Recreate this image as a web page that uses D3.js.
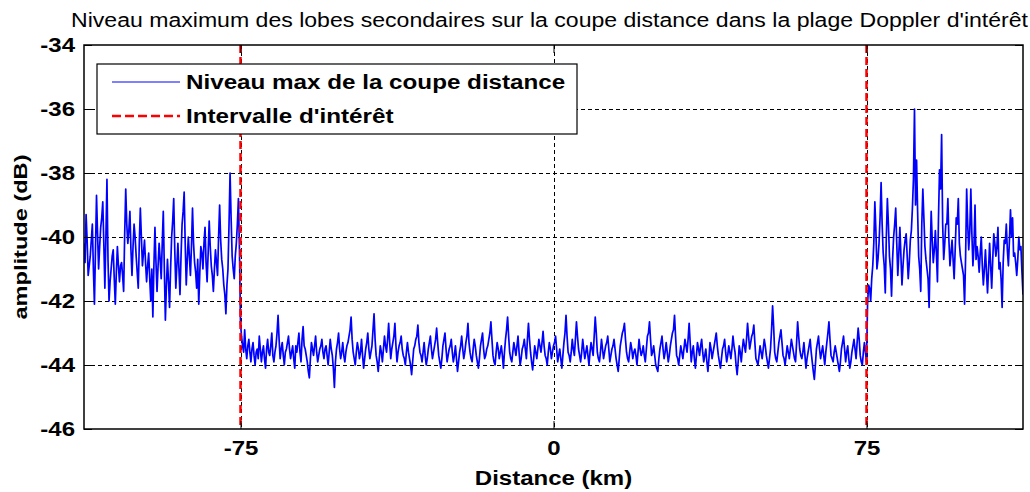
<!DOCTYPE html>
<html lang="fr">
<head>
    <meta charset="UTF-8">
    <title>Niveau maximum des lobes secondaires</title>
    <script src="https://cdnjs.cloudflare.com/ajax/libs/d3/7.8.5/d3.min.js"></script>
</head>

<style>
body { margin: 0; background: #fff; }
text { font-family: "Liberation Sans", Arial, sans-serif; }
.line { fill: none; stroke: #0000ff; stroke-width: 1.7px; stroke-linejoin: round; }
.grid line { stroke: #000; stroke-dasharray: 4,3; stroke-width: 1px; }
</style>

<body>
<div id="output"></div>
<script>

    // plot box (pixels)
    var margin = {top: 45, right: 7, bottom: 63, left: 84},
        width = 1030 - margin.left - margin.right,
        height = 492 - margin.top - margin.bottom;

    // axis setup
    var xDomain = [-112.5, 112.5];
    var yDomain = [-46, -34];
    var xTicks = [-75, 0, 75];
    var yTicks = [-46, -44, -42, -40, -38, -36, -34];
    var interval = [-75, 75];

    // samples are 0.25 km apart; each band is stored as two interleaved
    // lists (on the half-km grid and in between)
    var distStep = 0.5;

    // level (dB), -112.5 .. -75.5 km
    var leftBand = [
        -40.2, -39.3, -41.2, -40.6, -39.6, -42.1, -38.7, -41.0, -39.7, -38.9,
        -41.6, -38.2, -42.0, -41.0, -40.4, -42.1, -40.3, -41.4, -40.8, -41.7,
        -38.5, -40.2, -39.2, -41.2, -39.6, -40.6, -41.6, -39.1, -40.9, -40.1,
        -41.4, -40.5, -42.0, -42.5, -39.7, -41.7, -40.2, -41.3, -39.2, -42.6,
        -40.7, -42.2, -40.0, -38.8, -41.6, -40.2, -41.8, -39.6, -38.6, -41.5,
        -40.0, -41.2, -39.1, -40.8, -41.6, -42.1, -40.3, -41.0, -39.7, -41.4,
        -39.5, -40.9, -41.7, -40.4, -41.2, -39.0, -40.7, -41.5, -42.4, -41.0,
        -38.0, -40.6, -41.3, -40.2, -38.8
    ];
    // -112.25 .. -75.25 km
    var leftMid = [
        -40.8, -40.1, -40.9, -40.1, -41.0, -40.4, -39.9, -40.3, -39.4, -40.2,
        -40.0, -40.7, -41.4, -40.6, -41.3, -41.1, -40.9, -40.9, -41.2, -39.9,
        -39.6, -39.8, -40.4, -40.3, -40.0, -41.1, -40.2, -40.0, -40.5, -40.8,
        -40.9, -41.3, -41.0, -40.9, -40.8, -40.9, -40.7, -40.2, -41.0, -41.5,
        -41.4, -41.0, -39.5, -40.4, -40.9, -41.0, -40.6, -39.2, -40.2, -40.7,
        -40.6, -40.3, -40.2, -41.1, -40.7, -41.1, -40.5, -40.2, -40.8, -40.5,
        -40.3, -41.2, -41.0, -40.8, -40.0, -40.1, -41.0, -41.8, -41.5, -39.6,
        -39.4, -41.0, -40.6, -39.6, -40.4
    ];

    // -75 .. 75 km
    var centerBand = [
        -42.7, -43.4, -42.9, -43.8, -43.2, -43.9, -43.3, -44.0, -43.5, -43.1,
        -43.9, -43.4, -44.1, -43.2, -43.7, -43.0, -43.9, -43.4, -42.45, -43.8,
        -43.3, -44.0, -43.5, -43.1, -43.8, -43.4, -44.1, -43.6, -43.0, -43.9,
        -42.8, -43.5, -43.9, -44.4, -43.3, -43.7, -43.1, -43.9, -43.5, -43.2,
        -43.8, -43.4, -44.0, -43.2, -43.7, -44.7, -43.5, -43.0, -43.8, -43.3,
        -43.9, -43.4, -43.1, -42.5, -43.6, -44.0, -43.3, -43.8, -43.2, -44.1,
        -43.5, -43.0, -43.8, -43.4, -42.4, -43.7, -44.2, -43.4, -43.9, -43.1,
        -43.6, -42.7, -43.8, -43.3, -42.7, -43.9, -43.4, -43.1, -43.7, -44.0,
        -43.3, -43.8, -44.3, -43.5, -43.2, -42.75, -43.6, -43.9, -43.3, -44.0,
        -43.5, -43.1, -43.8, -43.4, -42.85, -43.7, -44.1, -43.4, -43.0, -43.9,
        -43.5, -43.2, -43.9, -43.4, -44.2, -43.6, -43.1, -43.8, -43.3, -42.7,
        -43.6, -43.9, -43.2, -43.7, -44.1, -43.4, -43.0, -43.8, -43.5, -43.2,
        -42.65, -43.7, -44.0, -43.3, -43.8, -43.4, -44.1, -43.2, -42.5, -43.6,
        -43.9, -43.3, -43.7, -43.1, -44.0, -43.5, -43.2, -43.8, -42.7, -43.6,
        -44.15, -43.4, -43.8, -43.2, -43.6, -42.95, -43.7, -44.0, -43.3, -43.8,
        -43.4, -43.1, -43.9, -43.5, -44.1, -43.3, -42.45, -43.6, -43.9, -43.2,
        -43.7, -42.65, -43.5, -43.9, -43.2, -43.8, -43.4, -44.0, -43.3, -43.7,
        -42.5, -43.6, -43.9, -43.2, -43.8, -43.4, -43.1, -43.9, -43.5, -43.2,
        -43.8, -44.2, -43.4, -43.0, -42.7, -43.6, -43.9, -43.3, -43.8, -43.5,
        -44.0, -43.2, -43.7, -43.4, -43.9, -43.1, -42.65, -43.7, -43.4, -44.0,
        -44.2, -43.5, -43.1, -43.8, -43.3, -43.9, -43.4, -43.0, -42.45, -43.7,
        -44.0, -43.4, -43.8, -43.2, -43.6, -42.7, -43.9, -43.4, -44.1, -43.3,
        -43.7, -43.2, -43.9, -43.5, -44.2, -43.3, -43.8, -43.4, -43.0, -43.7,
        -44.1, -43.5, -43.2, -43.9, -43.4, -43.8, -43.1, -43.6, -44.3, -43.4,
        -43.9, -43.2, -43.6, -42.7, -43.5, -43.1, -42.75, -43.8, -44.0, -43.4,
        -43.8, -43.2, -43.7, -44.1, -43.5, -42.15, -43.6, -43.9, -43.3, -42.9,
        -43.7, -44.0, -43.4, -43.8, -43.2, -43.6, -43.9, -42.65, -43.5, -43.8,
        -43.3, -44.1, -43.6, -43.2, -43.9, -44.45, -43.5, -43.1, -43.8, -43.4,
        -44.0, -43.3, -42.65, -43.7, -43.9, -43.4, -43.8, -44.2, -43.5, -43.1,
        -43.9, -43.4, -44.1, -43.6, -43.2, -43.8, -42.85, -43.7, -44.0, -43.3,
        -43.9
    ];
    // -74.75 .. 74.75 km
    var centerMid = [
        -43.1, -43.6, -43.5, -43.4, -43.6, -43.5, -43.7, -43.6, -43.8, -43.5,
        -43.6, -43.8, -43.5, -43.6, -43.4, -43.7, -43.6, -43.0, -43.2, -43.5,
        -43.7, -43.6, -43.3, -43.5, -43.6, -43.8, -43.4, -43.3, -43.6, -43.2,
        -43.4, -43.7, -44.2, -43.8, -43.5, -43.4, -43.6, -43.7, -43.4, -43.6,
        -43.5, -43.7, -43.6, -43.5, -44.1, -43.9, -43.3, -43.5, -43.6, -43.7,
        -43.6, -43.3, -42.9, -43.2, -43.8, -43.6, -43.5, -43.6, -43.7, -43.8,
        -43.3, -43.5, -43.6, -42.9, -43.2, -43.9, -43.8, -43.6, -43.5, -43.4,
        -43.2, -43.3, -43.5, -43.1, -43.4, -43.6, -43.3, -43.5, -43.8, -43.6,
        -43.6, -44.0, -43.9, -43.4, -43.1, -43.3, -43.7, -43.6, -43.7, -43.8,
        -43.3, -43.5, -43.6, -43.2, -43.3, -43.9, -43.8, -43.2, -43.5, -43.7,
        -43.4, -43.6, -43.7, -43.8, -43.9, -43.4, -43.5, -43.6, -43.1, -43.3,
        -43.8, -43.5, -43.4, -43.9, -43.8, -43.2, -43.5, -43.7, -43.4, -43.0,
        -43.2, -43.9, -43.6, -43.5, -43.6, -43.7, -43.6, -42.9, -43.1, -43.8,
        -43.6, -43.5, -43.4, -43.6, -43.8, -43.4, -43.5, -43.2, -43.2, -43.9,
        -43.8, -43.6, -43.5, -43.4, -43.3, -43.4, -43.8, -43.6, -43.5, -43.6,
        -43.3, -43.5, -43.7, -43.8, -43.7, -43.0, -43.1, -43.7, -43.6, -43.5,
        -43.2, -43.1, -43.7, -43.6, -43.5, -43.6, -43.7, -43.6, -43.5, -43.1,
        -43.0, -43.8, -43.6, -43.5, -43.6, -43.3, -43.5, -43.7, -43.4, -43.5,
        -44.0, -43.8, -43.2, -42.9, -43.2, -43.8, -43.6, -43.5, -43.6, -43.7,
        -43.6, -43.5, -43.6, -43.7, -43.5, -43.0, -43.2, -43.6, -43.7, -44.1,
        -43.8, -43.3, -43.5, -43.6, -43.6, -43.7, -43.2, -42.9, -43.1, -43.8,
        -43.7, -43.6, -43.5, -43.4, -43.2, -43.3, -43.6, -43.8, -43.7, -43.5,
        -43.4, -43.6, -43.7, -43.9, -43.8, -43.5, -43.6, -43.2, -43.4, -43.9,
        -43.8, -43.4, -43.6, -43.7, -43.6, -43.5, -43.4, -44.0, -43.9, -43.6,
        -43.5, -43.4, -43.2, -43.1, -43.3, -43.0, -43.3, -43.9, -43.7, -43.6,
        -43.5, -43.4, -43.9, -43.8, -42.9, -42.8, -43.8, -43.6, -43.1, -43.3,
        -43.8, -43.7, -43.6, -43.5, -43.4, -43.8, -43.3, -43.1, -43.7, -43.6,
        -43.7, -43.8, -43.4, -43.6, -44.2, -44.0, -43.3, -43.5, -43.6, -43.7,
        -43.6, -43.0, -43.2, -43.8, -43.6, -43.6, -44.0, -43.9, -43.3, -43.5,
        -43.6, -43.8, -43.9, -43.4, -43.5, -43.3, -43.2, -43.9, -43.6, -43.6
    ];

    // 75.5 .. 112.5 km
    var rightBand = [
        -41.5, -42.0, -40.9, -38.9, -41.0, -40.2, -38.3, -40.5, -41.75, -38.8,
        -40.6, -41.85, -40.0, -39.1, -41.2, -39.7, -41.5, -40.4, -39.9, -41.3,
        -40.1, -39.1, -36.0, -37.6, -40.6, -41.7, -38.5, -40.3, -41.0, -42.2,
        -39.2, -40.8, -39.8, -41.4, -37.9, -36.8, -40.7, -39.6, -38.8, -40.9,
        -40.1, -41.3, -39.4, -38.8, -40.6, -41.0, -42.1, -38.5, -40.4, -38.5,
        -40.9, -39.0, -40.3, -41.1, -40.0, -41.5, -40.4, -41.75, -40.2, -41.6,
        -39.9, -40.6, -39.7, -40.8, -42.2, -40.1, -39.6, -40.9, -39.15, -39.4,
        -40.5, -41.2, -40.0, -40.3, -41.8
    ];
    // 75.25 .. 112.25 km
    var rightMid = [
        -42.1, -41.6, -41.3, -40.2, -39.8, -40.7, -39.4, -39.6, -40.9, -40.0,
        -39.6, -41.0, -40.7, -39.6, -40.2, -40.5, -40.6, -40.9, -40.1, -40.6,
        -40.8, -39.8, -38.2, -39.0, -39.2, -41.0, -39.6, -39.4, -40.7, -41.3,
        -40.6, -40.1, -40.4, -40.5, -39.4, -38.5, -39.6, -40.2, -39.6, -40.1,
        -40.5, -40.7, -40.4, -39.6, -40.2, -40.8, -41.2, -40.6, -39.6, -39.8,
        -39.9, -40.3, -40.7, -40.6, -40.5, -40.9, -41.0, -41.1, -41.0, -40.9,
        -40.7, -40.2, -40.3, -41.0, -41.3, -40.8, -40.2, -40.4, -40.1, -40.0,
        -40.6, -40.8, -40.7, -40.4, -41.1
    ];

    function samples(values, start) {
        return values.map(function(v, i) {
            return {dist: start + i * distStep, level: v};
        });
    }

    var data = [].concat(
        samples(leftBand, -112.5), samples(leftMid, -112.25),
        samples(centerBand, -75), samples(centerMid, -74.75),
        samples(rightBand, 75.5), samples(rightMid, 75.25)
    ).sort(function(a, b) { return a.dist - b.dist; });

    // the reference text is drawn wider than the font's natural width
    function stretch(sel, factor) {
        sel.each(function() {
            var len = this.getComputedTextLength();
            d3.select(this)
                .attr("textLength", len * factor)
                .attr("lengthAdjust", "spacingAndGlyphs");
        });
    }

    var x = d3.scaleLinear().domain(xDomain).range([0, width]);
    var y = d3.scaleLinear().domain(yDomain).range([height, 0]);

    var svg = d3.select("#output").append("svg")
        .attr("width", 1030)
        .attr("height", 492)
        .style("display", "block");

    svg.append("rect")
        .attr("width", 1030).attr("height", 492)
        .style("fill", "#fff");

    var g = svg.append("g")
        .attr("transform", "translate(" + margin.left + "," + margin.top + ")");

    g.append("clipPath").attr("id", "clip")
        .append("rect").attr("width", width).attr("height", height);

    // dashed grid
    g.append("g").attr("class", "grid")
        .selectAll("line.h")
        .data(yTicks.slice(1, -1))
        .enter().append("line")
        .attr("x1", 0).attr("x2", width)
        .attr("y1", function(d) { return Math.round(y(d)) + 0.5; })
        .attr("y2", function(d) { return Math.round(y(d)) + 0.5; });

    g.append("g").attr("class", "grid")
        .selectAll("line.v")
        .data(xTicks)
        .enter().append("line")
        .attr("y1", 0).attr("y2", height)
        .attr("x1", function(d) { return Math.round(x(d)) + 0.5; })
        .attr("x2", function(d) { return Math.round(x(d)) + 0.5; });

    // data
    var line = d3.line()
        .x(function(d) { return x(d.dist); })
        .y(function(d) { return y(d.level); });

    g.append("path")
        .datum(data)
        .attr("class", "line")
        .attr("clip-path", "url(#clip)")
        .attr("d", line);

    // interval markers
    g.selectAll("line.interval")
        .data(interval)
        .enter().append("line")
        .attr("x1", function(d) { return x(d); })
        .attr("x2", function(d) { return x(d); })
        .attr("y1", 0).attr("y2", height)
        .style("stroke", "#ff0000")
        .style("stroke-width", 2.5)
        .style("stroke-dasharray", "8,4");

    // axes: MATLAB-style inward ticks on all four sides
    var tickLen = 8;
    var plain = function(d) { return String(d); };
    g.append("g")
        .attr("transform", "translate(0," + height + ")")
        .call(d3.axisBottom(x).tickValues(xTicks).tickFormat(plain)
            .tickSizeInner(-tickLen).tickSizeOuter(0).tickPadding(12));
    g.append("g")
        .call(d3.axisTop(x).tickValues(xTicks).tickSizeInner(-tickLen).tickSizeOuter(0).tickFormat(""));
    g.append("g")
        .call(d3.axisLeft(y).tickValues(yTicks).tickFormat(plain)
            .tickSizeInner(-tickLen).tickSizeOuter(0).tickPadding(9));
    g.append("g")
        .attr("transform", "translate(" + width + ",0)")
        .call(d3.axisRight(y).tickValues(yTicks).tickSizeInner(-tickLen).tickSizeOuter(0).tickFormat(""));

    g.selectAll(".domain").remove();
    g.selectAll(".tick line").style("stroke", "#000");
    g.selectAll(".tick text")
        .style("font-family", "'Liberation Sans', Arial, sans-serif")
        .style("font-size", "20px")
        .style("font-weight", "bold")
        .style("fill", "#000")
        .call(stretch, 1.2);

    g.append("rect")
        .attr("x", 0).attr("y", 0)
        .attr("width", width).attr("height", height)
        .style("fill", "none")
        .style("stroke", "#000")
        .style("stroke-width", 1.5);

    // legend
    var legend = g.append("g").attr("transform", "translate(13,19)");
    legend.append("rect")
        .attr("width", 480).attr("height", 70)
        .style("fill", "#fff")
        .style("stroke", "#000")
        .style("stroke-width", 1.2);
    legend.append("line")
        .attr("x1", 15).attr("x2", 83).attr("y1", 18).attr("y2", 18)
        .style("stroke", "#0000ff").style("stroke-width", 1.2);
    legend.append("line")
        .attr("x1", 15).attr("x2", 83).attr("y1", 52).attr("y2", 52)
        .style("stroke", "#ff0000").style("stroke-width", 2.5)
        .style("stroke-dasharray", "9,4");
    legend.selectAll("text")
        .data(["Niveau max de la coupe distance", "Intervalle d'int\u00e9r\u00eat"])
        .enter().append("text")
        .attr("x", 89)
        .attr("y", function(d, i) { return 18 + i * 34; })
        .attr("dy", "0.35em")
        .style("font-size", "20px")
        .style("font-weight", "bold")
        .text(function(d) { return d; })
        .call(stretch, 1.21);

    // titles
    svg.append("text")
        .attr("x", margin.left + width / 2 - 4)
        .attr("y", 27)
        .attr("text-anchor", "middle")
        .style("font-size", "20px")
        .text("Niveau maximum des lobes secondaires sur la coupe distance dans la plage Doppler d'int\u00e9r\u00eat")
        .attr("textLength", 957)
        .attr("lengthAdjust", "spacingAndGlyphs");

    svg.append("text")
        .attr("x", margin.left + width / 2)
        .attr("y", 485)
        .attr("text-anchor", "middle")
        .style("font-size", "20px")
        .style("font-weight", "bold")
        .text("Distance (km)")
        .call(stretch, 1.2);

    svg.append("text")
        .attr("transform", "translate(27," + (margin.top + height / 2) + ") rotate(-90)")
        .attr("text-anchor", "middle")
        .style("font-size", "18px")
        .style("font-weight", "bold")
        .text("amplitude (dB)")
        .attr("textLength", 165)
        .attr("lengthAdjust", "spacingAndGlyphs");

</script>
</body>
</html>
